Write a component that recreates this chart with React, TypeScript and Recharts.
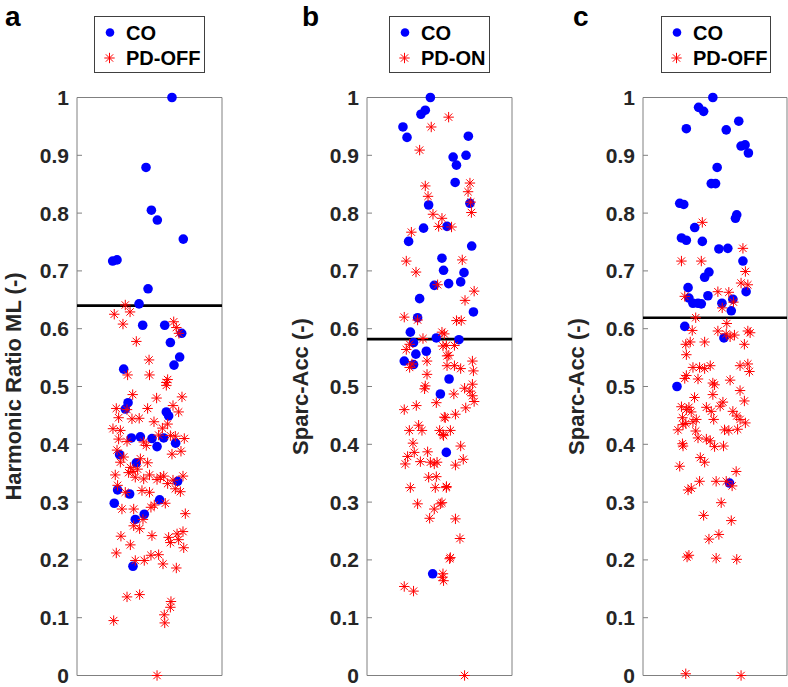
import React from 'react';
import { ScatterChart, Scatter, XAxis, YAxis, ReferenceLine, ReferenceArea } from 'recharts';

type Pt = [number, number];

const yTicks = [0, 0.1, 0.2, 0.3, 0.4, 0.5, 0.6, 0.7, 0.8, 0.9, 1];
const tickLabels = ['0', '0.1', '0.2', '0.3', '0.4', '0.5', '0.6', '0.7', '0.8', '0.9', '1'];

const panelLetters = ['a', 'b', 'c'];
const yLabels = ['Harmonic Ratio ML (-)', 'Sparc-Acc (-)', 'Sparc-Acc (-)'];
const legendCO = 'CO';
const legendPD = ['PD-OFF', 'PD-ON', 'PD-OFF'];
const thresholds = [0.64, 0.582, 0.619];

const aCO: Pt[] = [
  [0.655, 1.0], [0.476, 0.879], [0.513, 0.805], [0.554, 0.788], [0.733, 0.755], [0.246, 0.717], [0.276, 0.719],
  [0.49, 0.669], [0.428, 0.643], [0.453, 0.606], [0.605, 0.606], [0.722, 0.592], [0.644, 0.576], [0.708, 0.551],
  [0.669, 0.537], [0.322, 0.53], [0.352, 0.472], [0.333, 0.461], [0.616, 0.456], [0.632, 0.449], [0.375, 0.411],
  [0.437, 0.413], [0.517, 0.41], [0.552, 0.396], [0.598, 0.411], [0.68, 0.402], [0.294, 0.382], [0.409, 0.368],
  [0.694, 0.336], [0.28, 0.321], [0.363, 0.314], [0.257, 0.298], [0.57, 0.304], [0.464, 0.279], [0.402, 0.27],
  [0.386, 0.189],
];

const aPD: Pt[] = [
  [0.333, 0.641], [0.257, 0.625], [0.366, 0.629], [0.317, 0.608], [0.667, 0.612], [0.685, 0.602], [0.703, 0.592],
  [0.409, 0.578], [0.497, 0.546], [0.349, 0.52], [0.5, 0.52], [0.625, 0.512], [0.616, 0.507], [0.384, 0.486],
  [0.549, 0.48], [0.616, 0.502], [0.724, 0.482], [0.271, 0.462], [0.287, 0.446], [0.345, 0.46], [0.487, 0.462],
  [0.379, 0.444], [0.429, 0.445], [0.531, 0.439], [0.662, 0.467], [0.701, 0.456], [0.625, 0.435], [0.248, 0.427],
  [0.299, 0.424], [0.287, 0.409], [0.345, 0.405], [0.276, 0.39], [0.563, 0.416], [0.678, 0.414], [0.74, 0.41],
  [0.46, 0.404], [0.478, 0.398], [0.644, 0.415], [0.589, 0.428], [0.655, 0.383], [0.717, 0.388], [0.322, 0.378],
  [0.299, 0.369], [0.437, 0.375], [0.487, 0.368], [0.368, 0.36], [0.386, 0.353], [0.418, 0.357], [0.356, 0.351],
  [0.402, 0.343], [0.46, 0.34], [0.5, 0.347], [0.552, 0.339], [0.575, 0.343], [0.598, 0.345], [0.625, 0.332],
  [0.264, 0.347], [0.28, 0.329], [0.662, 0.338], [0.731, 0.345], [0.678, 0.323], [0.713, 0.318], [0.448, 0.32],
  [0.5, 0.317], [0.333, 0.317], [0.31, 0.288], [0.391, 0.288], [0.51, 0.291], [0.533, 0.295], [0.609, 0.298],
  [0.747, 0.28], [0.455, 0.27], [0.391, 0.259], [0.432, 0.254], [0.303, 0.241], [0.517, 0.242], [0.632, 0.239],
  [0.644, 0.23], [0.69, 0.245], [0.731, 0.249], [0.701, 0.235], [0.736, 0.221], [0.368, 0.226], [0.271, 0.212],
  [0.402, 0.199], [0.464, 0.199], [0.51, 0.208], [0.563, 0.209], [0.593, 0.193], [0.685, 0.186], [0.345, 0.136],
  [0.432, 0.14], [0.648, 0.128], [0.644, 0.118], [0.602, 0.105], [0.605, 0.091], [0.253, 0.095], [0.552, 0.0],
];

const bCO: Pt[] = [
  [0.437, 1.0], [0.402, 0.978], [0.372, 0.971], [0.248, 0.949], [0.276, 0.931], [0.425, 0.814], [0.39, 0.774],
  [0.552, 0.777], [0.287, 0.751], [0.517, 0.722], [0.528, 0.701], [0.464, 0.675], [0.563, 0.678], [0.363, 0.652],
  [0.349, 0.619], [0.299, 0.594], [0.478, 0.584], [0.321, 0.576], [0.337, 0.556], [0.257, 0.544], [0.321, 0.538],
  [0.409, 0.561], [0.566, 0.513], [0.506, 0.487], [0.547, 0.386], [0.453, 0.176], [0.699, 0.933], [0.594, 0.897],
  [0.683, 0.9], [0.617, 0.883], [0.608, 0.853], [0.71, 0.817], [0.722, 0.743], [0.646, 0.681], [0.669, 0.697],
  [0.734, 0.629], [0.634, 0.581],
];

const bPD: Pt[] = [
  [0.563, 0.966], [0.443, 0.949], [0.363, 0.909], [0.402, 0.847], [0.421, 0.829], [0.455, 0.798], [0.517, 0.791],
  [0.494, 0.777], [0.306, 0.767], [0.271, 0.717], [0.338, 0.698], [0.487, 0.676], [0.257, 0.62], [0.349, 0.615],
  [0.386, 0.583], [0.294, 0.573], [0.271, 0.564], [0.524, 0.57], [0.552, 0.553], [0.414, 0.544], [0.294, 0.533],
  [0.31, 0.539], [0.552, 0.536], [0.414, 0.521], [0.402, 0.501], [0.397, 0.496], [0.478, 0.472], [0.257, 0.46],
  [0.34, 0.467], [0.54, 0.446], [0.292, 0.424], [0.356, 0.433], [0.379, 0.424], [0.501, 0.424], [0.528, 0.415],
  [0.317, 0.402], [0.28, 0.379], [0.326, 0.386], [0.264, 0.366], [0.368, 0.37], [0.418, 0.387], [0.437, 0.369],
  [0.464, 0.366], [0.483, 0.369], [0.425, 0.343], [0.478, 0.344], [0.299, 0.325], [0.471, 0.325], [0.547, 0.325],
  [0.349, 0.297], [0.506, 0.297], [0.464, 0.288], [0.432, 0.272], [0.57, 0.202], [0.524, 0.176], [0.528, 0.164],
  [0.257, 0.154], [0.321, 0.146], [0.71, 0.852], [0.697, 0.837], [0.715, 0.819], [0.72, 0.801], [0.583, 0.776],
  [0.657, 0.719], [0.739, 0.665], [0.676, 0.649], [0.617, 0.614], [0.65, 0.614], [0.517, 0.594], [0.533, 0.591],
  [0.547, 0.571], [0.603, 0.571], [0.564, 0.554], [0.603, 0.536], [0.646, 0.531], [0.727, 0.544], [0.734, 0.527],
  [0.599, 0.487], [0.673, 0.497], [0.71, 0.492], [0.727, 0.504], [0.727, 0.484], [0.739, 0.474], [0.681, 0.463],
  [0.533, 0.447], [0.61, 0.452], [0.575, 0.424], [0.524, 0.417], [0.646, 0.397], [0.664, 0.374], [0.61, 0.364],
  [0.548, 0.327], [0.517, 0.299], [0.61, 0.271], [0.641, 0.237], [0.575, 0.204], [0.52, 0.17], [0.673, 0.0],
];

const cCO: Pt[] = [
  [0.301, 0.946], [0.255, 0.817], [0.283, 0.815], [0.267, 0.757], [0.301, 0.753], [0.313, 0.671], [0.319, 0.653],
  [0.29, 0.604], [0.236, 0.5], [0.485, 1.0], [0.386, 0.983], [0.421, 0.976], [0.578, 0.944], [0.665, 0.959],
  [0.681, 0.916], [0.709, 0.918], [0.732, 0.904], [0.515, 0.879], [0.474, 0.851], [0.504, 0.851], [0.651, 0.797],
  [0.642, 0.791], [0.359, 0.775], [0.412, 0.751], [0.527, 0.738], [0.589, 0.739], [0.694, 0.717], [0.458, 0.698],
  [0.428, 0.689], [0.716, 0.664], [0.451, 0.657], [0.347, 0.644], [0.382, 0.644], [0.405, 0.643], [0.548, 0.644],
  [0.624, 0.651], [0.613, 0.631], [0.562, 0.584], [0.601, 0.333],
];

const cPD: Pt[] = [
  [0.267, 0.717], [0.29, 0.656], [0.301, 0.555], [0.29, 0.514], [0.267, 0.465], [0.301, 0.46], [0.243, 0.425],
  [0.278, 0.434], [0.278, 0.397], [0.255, 0.362], [0.313, 0.321], [0.306, 0.205], [0.297, 0.003], [0.412, 0.784],
  [0.694, 0.739], [0.405, 0.717], [0.711, 0.699], [0.681, 0.679], [0.728, 0.676], [0.52, 0.664], [0.596, 0.663],
  [0.55, 0.636], [0.628, 0.646], [0.366, 0.619], [0.582, 0.609], [0.52, 0.596], [0.578, 0.591], [0.605, 0.586],
  [0.635, 0.589], [0.728, 0.596], [0.744, 0.593], [0.342, 0.597], [0.428, 0.577], [0.328, 0.577], [0.297, 0.573],
  [0.704, 0.573], [0.674, 0.536], [0.728, 0.539], [0.739, 0.526], [0.301, 0.519], [0.347, 0.533], [0.393, 0.533],
  [0.428, 0.531], [0.467, 0.536], [0.382, 0.513], [0.485, 0.506], [0.497, 0.503], [0.605, 0.511], [0.674, 0.493],
  [0.704, 0.475], [0.358, 0.481], [0.485, 0.486], [0.555, 0.473], [0.536, 0.466], [0.319, 0.464], [0.335, 0.456],
  [0.44, 0.464], [0.474, 0.457], [0.624, 0.457], [0.651, 0.449], [0.674, 0.443], [0.711, 0.437], [0.274, 0.446],
  [0.297, 0.436], [0.347, 0.439], [0.37, 0.443], [0.491, 0.443], [0.566, 0.425], [0.596, 0.424], [0.657, 0.426],
  [0.366, 0.423], [0.382, 0.411], [0.44, 0.409], [0.467, 0.406], [0.497, 0.396], [0.559, 0.397], [0.274, 0.401],
  [0.398, 0.377], [0.428, 0.369], [0.647, 0.353], [0.619, 0.328], [0.393, 0.336], [0.508, 0.336], [0.578, 0.336],
  [0.335, 0.324], [0.543, 0.299], [0.613, 0.268], [0.421, 0.277], [0.527, 0.244], [0.458, 0.236], [0.319, 0.208],
  [0.508, 0.203], [0.651, 0.201], [0.681, 0.0],
];

const FONT = '"Liberation Sans", Arial, Helvetica, sans-serif';
const AX = '#808080';
const TXT = '#262626';

const toPts = (a: Pt[]) => a.map(([x, y]) => ({ x, y }));
const fmt = (v: number) => tickLabels[yTicks.findIndex((t) => Math.abs(t - v) < 1e-9)] ?? String(v);

const Dot = (props: any) => {
  const { cx, cy } = props;
  if (cx == null || cy == null) return null;
  return <circle cx={cx} cy={cy} r={4.8} fill="#0000ff" />;
};

const Star = (props: any) => {
  const { cx, cy } = props;
  if (cx == null || cy == null) return null;
  const r = 5.2;
  const d = r * 0.707;
  return (
    <g stroke="#ff0000" strokeWidth={1}>
      <line x1={cx - r} y1={cy} x2={cx + r} y2={cy} />
      <line x1={cx} y1={cy - r} x2={cx} y2={cy + r} />
      <line x1={cx - d} y1={cy - d} x2={cx + d} y2={cy + d} />
      <line x1={cx - d} y1={cy + d} x2={cx + d} y2={cy - d} />
    </g>
  );
};

const LeftTick = (props: any) => {
  const { x, y, payload } = props;
  return (
    <g>
      <line x1={x} x2={x + 5} y1={y} y2={y} stroke={AX} strokeWidth={1} />
      <text x={x - 8} y={y} dy="0.36em" textAnchor="end" fontSize={21} fontWeight="bold" fill={TXT} fontFamily={FONT}>
        {fmt(payload.value)}
      </text>
    </g>
  );
};

const RightTick = (props: any) => {
  const { x, y } = props;
  return <line x1={x - 5} x2={x} y1={y} y2={y} stroke={AX} strokeWidth={1} />;
};

const PLOT_TOP = 97.5;
const PLOT_BOTTOM = 675.5;
const H = 687;
const LEFT_W = 70;

type PanelProps = { left: number; width: number; co: Pt[]; pd: Pt[]; thr: number };

const Panel = ({ left, width, co, pd, thr }: PanelProps) => (
  <div style={{ position: 'absolute', left: left - LEFT_W, top: 0 }}>
    <ScatterChart
      width={LEFT_W + width + 1}
      height={H}
      margin={{ top: PLOT_TOP, bottom: H - PLOT_BOTTOM, left: 0, right: 0 }}
    >
      <XAxis type="number" dataKey="x" domain={[0, 1]} hide />
      <YAxis
        yAxisId="l"
        type="number"
        dataKey="y"
        domain={[0, 1]}
        ticks={yTicks}
        interval={0}
        width={LEFT_W}
        axisLine={false}
        tickLine={false}
        tickSize={0}
        tickMargin={0}
        tick={<LeftTick />}
      />
      <YAxis
        yAxisId="r"
        orientation="right"
        type="number"
        domain={[0, 1]}
        ticks={yTicks}
        interval={0}
        width={1}
        axisLine={false}
        tickLine={false}
        tickSize={0}
        tickMargin={0}
        tick={<RightTick />}
      />
      <ReferenceArea yAxisId="l" x1={0} x2={1} y1={0} y2={1} fill="#ffffff" fillOpacity={0} stroke={AX} strokeWidth={1} />
      <Scatter yAxisId="l" data={toPts(co)} shape={Dot} isAnimationActive={false} />
      <Scatter yAxisId="l" data={toPts(pd)} shape={Star} isAnimationActive={false} />
      <ReferenceLine yAxisId="l" y={thr} stroke="#000000" strokeWidth={2.6} />
    </ScatterChart>
  </div>
);

const boxes = [
  { left: 77, width: 145 },
  { left: 367, width: 145 },
  { left: 643, width: 144 },
];
const letterX = [5, 302, 573];
const yLabelX = [21, 308, 584];
const legendBoxes = [
  { x: 94, w: 110 },
  { x: 389, w: 100 },
  { x: 661, w: 109 },
];
const series = [
  { co: aCO, pd: aPD },
  { co: bCO, pd: bPD },
  { co: cCO, pd: cPD },
];

export default function App() {
  const midY = (PLOT_TOP + PLOT_BOTTOM) / 2;
  return (
    <div style={{ position: 'absolute', left: 0, top: 0, width: 788, height: 687, background: '#ffffff', overflow: 'hidden' }}>
      {boxes.map((b, i) => (
        <Panel key={i} left={b.left} width={b.width} co={series[i].co} pd={series[i].pd} thr={thresholds[i]} />
      ))}
      <svg width={788} height={687} style={{ position: 'absolute', left: 0, top: 0, pointerEvents: 'none' }}>
        {panelLetters.map((l, i) => (
          <text key={'l' + i} x={letterX[i]} y={26} fontSize={28} fontWeight="bold" fill="#000" fontFamily={FONT}>
            {l}
          </text>
        ))}
        {yLabels.map((t, i) => (
          <text
            key={'y' + i}
            x={yLabelX[i]}
            y={midY}
            transform={`rotate(-90 ${yLabelX[i]} ${midY})`}
            textAnchor="middle"
            fontSize={22}
            fontWeight="bold"
            fill={TXT}
            fontFamily={FONT}
          >
            {t}
          </text>
        ))}
        {legendBoxes.map((lb, i) => (
          <g key={'g' + i}>
            <rect x={lb.x + 0.5} y={16.5} width={lb.w} height={56} fill="#ffffff" stroke="#404040" strokeWidth={1} />
            <circle cx={lb.x + 16} cy={32.5} r={4.3} fill="#0000ff" />
            <Star cx={lb.x + 15.5} cy={58} />
            <text x={lb.x + 32} y={32.5} dy="0.36em" fontSize={20} fontWeight="bold" fill="#000" fontFamily={FONT}>
              {legendCO}
            </text>
            <text x={lb.x + 32} y={58} dy="0.36em" fontSize={20} fontWeight="bold" fill="#000" fontFamily={FONT}>
              {legendPD[i]}
            </text>
          </g>
        ))}
      </svg>
    </div>
  );
}
